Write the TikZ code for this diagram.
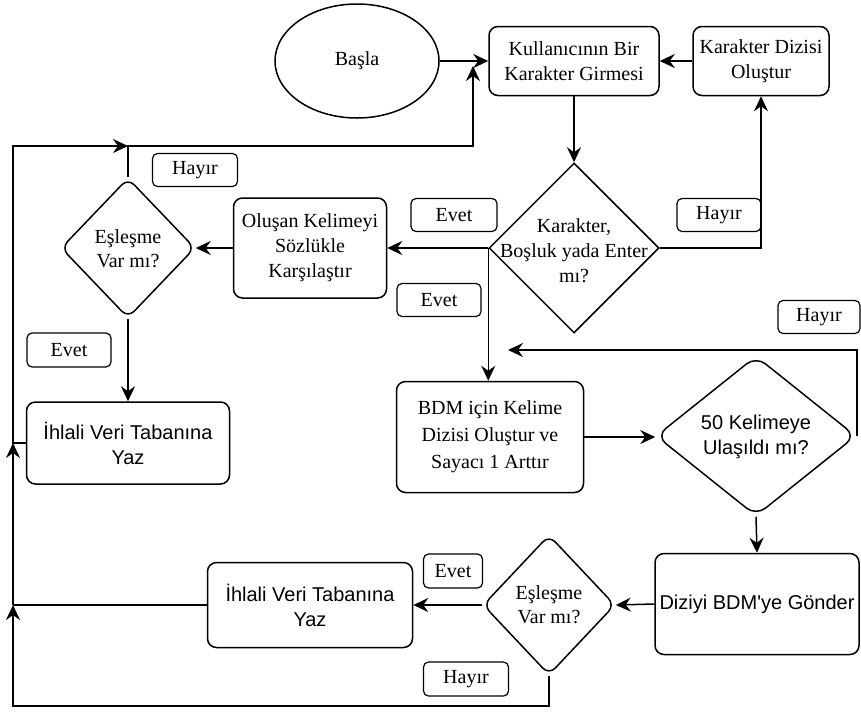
\documentclass[tikz,border=0pt]{standalone}
\usepackage{fontspec}
\setmainfont{Liberation Serif}
\newfontfamily\sansf{Liberation Sans}
\usetikzlibrary{shapes.geometric,arrows.meta}
\begin{document}
\begin{tikzpicture}[x=1pt,y=-1pt,
  line width=1.5pt,
  every node/.style={inner sep=0pt, align=center, font=\fontsize{20}{25}\selectfont},
  sanstext/.style={font=\sansf\fontsize{20}{25}\selectfont},
  proc/.style={draw, rounded corners=9pt},
  term/.style={draw, ellipse},
  decide/.style={draw, diamond},
  tag/.style={draw, rounded corners=5pt, line width=1.2pt},
  flow/.style={-{Stealth[length=15pt,width=14pt,inset=5pt]}},
]
\useasboundingbox (0,0) rectangle (861,713);

% main nodes
\node[term, minimum width=164pt, minimum height=114pt] (start) at (357,61) {Başla};
\node[proc, minimum width=170pt, minimum height=69pt] (kul) at (574,61) {Kullanıcının Bir\\Karakter Girmesi};
\node[proc, minimum width=136pt, minimum height=69pt] (diz) at (761,61) {Karakter Dizisi\\Oluştur};

\node[decide, minimum width=170pt, minimum height=170pt] (q1) at (574,248) {};
\node (q1t) at (574,251) {Karakter,\\Boşluk yada Enter\\mı?};

\node[proc, minimum width=153pt, minimum height=100pt] (olus) at (310,248) {Oluşan Kelimeyi\\Sözlükle\\Karşılaştır};

\node[decide, rounded corners=9pt, minimum width=134pt, minimum height=140pt] (m1) at (128,248) {};
\node[font=\fontsize{20}{24}\selectfont] (m1t) at (128,249) {Eşleşme\\Var mı?};

\node[proc, sanstext, minimum width=203pt, minimum height=82pt] (ih1) at (128,443) {İhlali Veri Tabanına\\Yaz};

\node[proc, minimum width=187pt, minimum height=111pt, font=\fontsize{20}{27}\selectfont] (bdm) at (490,437) {BDM için Kelime\\Dizisi Oluştur ve\\Sayacı 1 Arttır};

\node[decide, rounded corners=12pt, minimum width=200pt, minimum height=160pt] (q2) at (756,436) {};
\node[sanstext] (q2t) at (756,437) {50 Kelimeye\\Ulaşıldı mı?};

\node[proc, sanstext, minimum width=204pt, minimum height=101pt] (send) at (757,604) {Diziyi BDM'ye Gönder};

\node[decide, rounded corners=9pt, minimum width=132pt, minimum height=140pt] (m2) at (549,605) {};
\node[font=\fontsize{20}{24}\selectfont] (m2t) at (549,605) {Eşleşme\\Var mı?};

\node[proc, sanstext, minimum width=205pt, minimum height=85pt] (ih2) at (310,605) {İhlali Veri Tabanına\\Yaz};

% branch labels
\node[tag, minimum width=85pt, minimum height=33pt] (l1) at (195,170) {Hayır};
\node[tag, minimum width=86pt, minimum height=33pt] (l2) at (454,215) {Evet};
\node[tag, minimum width=84pt, minimum height=33pt] (l3) at (439,300) {Evet};
\node[tag, minimum width=84pt, minimum height=33pt] (l4) at (719,215) {Hayır};
\node[tag, minimum width=84pt, minimum height=34pt] (l5) at (69,350) {Evet};
\node[tag, minimum width=82pt, minimum height=33pt] (l6) at (819,317) {Hayır};
\node[tag, minimum width=59pt, minimum height=34pt] (l7) at (453,571) {Evet};
\node[tag, minimum width=85pt, minimum height=34pt] (l8) at (466,679) {Hayır};

% rail coordinates
\coordinate (railTL) at (13,146);
\coordinate (railTR) at (473,146);
\coordinate (entry) at (473,66);
\coordinate (railBL) at (13,706);
\coordinate (ret) at (508,350);

% connectors
\draw[flow] (start.east) -- (kul.west);
\draw[flow] (diz.west) -- (kul.east);
\draw[flow] (kul.south) -- (q1.north);
\draw[flow] (q1.east) -| (diz.south);
\draw[flow] (q1.west) -- (olus.east);
\draw[flow] (olus.west) -- (m1.east);
\draw[flow] (q1.west) -- (q1.west |- bdm.north);
\draw[flow] (bdm.east) -- (bdm.east -| q2.west);
\draw[flow] (q2.east) -- (q2.east |- ret) -- (ret);
\draw[flow] (q2.south) -- (send.north);
\draw[flow] (send.west) -- (m2.east);
\draw[flow] (m2.west) -- (ih2.east);
\draw[flow] (m1.south) -- (ih1.north);

\draw[flow] (m1.north) |- (railTR) -- (entry);
\draw[flow] (ih1.west) -| (railTL) -- (m1.north |- railTL);
\draw[flow] (m2.south) |- (railBL) -- (railBL |- ih2.west);
\draw (ih2.west) -- (railBL |- ih2.west);
\draw[flow] (railBL |- ih2.west) -- (railBL |- ih1.west);
\end{tikzpicture}
\end{document}
